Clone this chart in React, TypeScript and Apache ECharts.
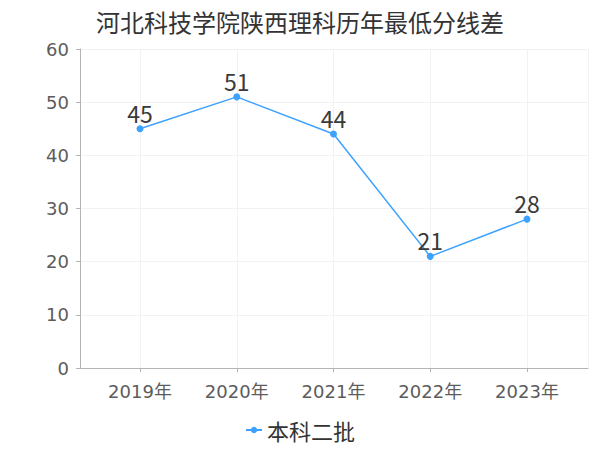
import React, { useEffect, useRef } from "react";
import * as echarts from "echarts";

const titleText = "河北科技学院陕西理科历年最低分线差";
const categories = ["2019年", "2020年", "2021年", "2022年", "2023年"];
const seriesName = "本科二批";
const values = [45, 51, 44, 21, 28];
const yMin = 0;
const yMax = 60;
const yInterval = 10;

const LINE_COLOR = "#3da2ff";
const AXIS_COLOR = "#b4b4b4";
const GRID_COLOR = "#f2f2f2";
const LABEL_COLOR = "#5c5c5c";
const FONT = "'DejaVu Sans', 'Noto Sans CJK SC', sans-serif";
const CJK = "'Noto Sans CJK SC', sans-serif";

export default function App() {
  const ref = useRef<HTMLDivElement>(null);
  useEffect(() => {
    if (!ref.current) return;
    const chart = echarts.init(ref.current, undefined, { renderer: "svg" });
    chart.setOption({
      animation: false,
      backgroundColor: "#ffffff",
      title: {
        text: titleText,
        left: 91,
        top: 4,
        textStyle: { fontFamily: CJK, fontSize: 24, fontWeight: "normal", color: "#333333" },
      },
      legend: {
        bottom: 4,
        left: "center",
        itemWidth: 16,
        itemHeight: 8,
        itemGap: 4,
        data: [seriesName],
        textStyle: { fontFamily: CJK, fontSize: 22, color: "#333333" },
      },
      grid: [
        { left: 80, right: 12, top: 49, bottom: 82 },
        { left: 140, right: 73, top: 49, bottom: 82 },
      ],
      xAxis: [
        {
          type: "value",
          gridIndex: 0,
          min: 0,
          max: 1,
          interval: 1,
          offset: 4,
          axisLine: { show: true, lineStyle: { color: AXIS_COLOR } },
          axisTick: { show: false },
          axisLabel: { show: false },
          splitLine: { show: true, lineStyle: { color: GRID_COLOR } },
        },
        {
          type: "category",
          gridIndex: 1,
          data: categories,
          boundaryGap: false,
          offset: 4,
          axisLine: { show: false },
          axisTick: { show: true, length: 4, lineStyle: { color: AXIS_COLOR } },
          axisLabel: { color: LABEL_COLOR, fontSize: 18, fontFamily: FONT, margin: 10 },
          splitLine: { show: true, lineStyle: { color: GRID_COLOR } },
        },
      ],
      yAxis: [
        {
          type: "value",
          gridIndex: 0,
          min: yMin,
          max: yMax,
          interval: yInterval,
          offset: 3,
          axisLine: { show: true, lineStyle: { color: AXIS_COLOR } },
          axisTick: { show: true, length: 4, lineStyle: { color: AXIS_COLOR } },
          axisLabel: { color: LABEL_COLOR, fontSize: 18, fontFamily: FONT, margin: 8 },
          splitLine: { show: true, lineStyle: { color: GRID_COLOR } },
        },
        {
          type: "value",
          gridIndex: 1,
          min: yMin,
          max: yMax,
          interval: yInterval,
          show: false,
          splitLine: { show: false },
        },
      ],
      series: [
        {
          name: seriesName,
          type: "line",
          xAxisIndex: 1,
          yAxisIndex: 1,
          data: values,
          symbol: "circle",
          symbolSize: 7,
          itemStyle: { color: LINE_COLOR },
          lineStyle: { color: LINE_COLOR, width: 1.5 },
          label: {
            show: true,
            position: "top",
            distance: 1,
            fontSize: 23,
            fontFamily: CJK,
            color: "#3a3a3a",
          },
        },
      ],
    });
    return () => chart.dispose();
  }, []);
  return <div ref={ref} style={{ width: 600, height: 450, position: "absolute", left: 0, top: 0 }} />;
}
